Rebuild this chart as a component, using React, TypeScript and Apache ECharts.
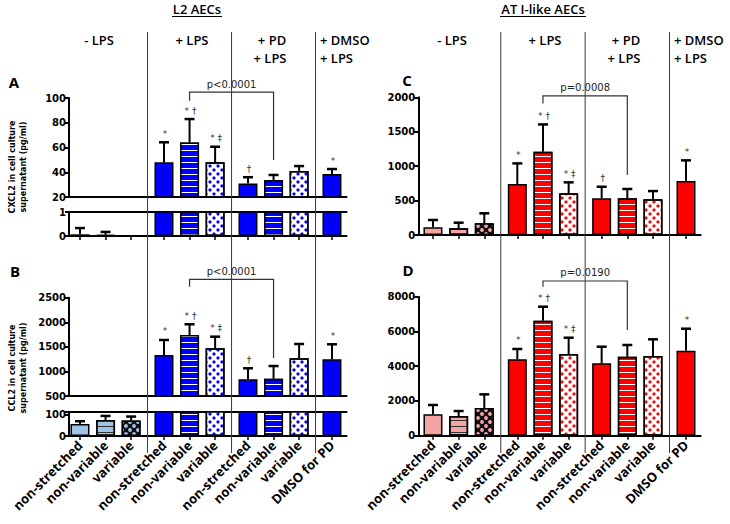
import React, { useEffect, useRef } from 'react';
import * as echarts from 'echarts';

// ---------- data ----------
const groupLabels = [
  'non-stretched', 'non-variable', 'variable',
  'non-stretched', 'non-variable', 'variable',
  'non-stretched', 'non-variable', 'variable',
  'DMSO for PD',
];
// slot position of each bar (in layout units along the x axis)
const slotUnits = [0, 7, 14, 23, 30, 37, 46, 53, 60, 69];
const separatorUnits = [18.5, 41.5, 64.5];
const barPatterns = ['solid', 'stripe', 'dots', 'solid', 'stripe', 'dots', 'solid', 'stripe', 'dots', 'solid'];
const lightBars = [true, true, true, false, false, false, false, false, false, false];

// L2 AECs
const cxcl2L2Mean = [0.07, 0.05, 0, 48, 64, 48, 31, 33.7, 41, 38.6];
const cxcl2L2SD = [0.26, 0.12, 0, 16.2, 19, 12.6, 5, 4.1, 4, 4];
const ccl2L2Mean = [57, 76, 73, 1334, 1741, 1470, 840, 852, 1267, 1246];
const ccl2L2SD = [13, 19, 19, 306, 218, 237, 224, 258, 291, 306];
// AT I-like AECs
const cxcl2ATMean = [112, 97, 170, 740, 1209, 605, 532, 532, 518, 783];
const cxcl2ATSD = [106, 82, 145, 300, 397, 160, 169, 136, 120, 301];
const ccl2ATMean = [1230, 1134, 1594, 4397, 6619, 4702, 4166, 4547, 4587, 4892];
const ccl2ATSD = [537, 286, 786, 593, 805, 938, 956, 673, 961, 1266];

const notesA = ['', '', '', '*', '* †', '* ‡', '†', '', '', '*'];
const notesB = ['', '', '', '*', '* †', '* ‡', '†', '', '', '*'];
const notesC = ['', '', '', '*', '* †', '* ‡', '†', '', '', '*'];
const notesD = ['', '', '', '*', '* †', '* ‡', '', '', '', '*'];

// comparison bracket: between bars 5 and 8 (0-based 4 and 7)
const bracketBars = [4, 7];
// [top, left leg end, right leg end] in data units
const bracketA = [104.8, 97.8, 49.9];
const bracketB = [2874, 2724, 1273];
const bracketC = [2022, 1911, 871];
const bracketD = [8904, 8576, 6083];
const pTextA = 'p<0.0001';
const pTextB = 'p<0.0001';
const pTextC = 'p=0.0008';
const pTextD = 'p=0.0190';

// axis ranges [min, max, interval]
const axisAUpper = [20, 100, 20];
const axisALower = [0, 1, 1];
const axisBUpper = [500, 2500, 500];
const axisBLower = [0, 115, 100];
const axisC = [0, 2000, 500];
const axisD = [0, 8000, 2000];

// ---------- layout / style ----------
const sides: any = {
  L: { left: 69.04, unit: 3.652, padL: 3, padR: 4, main: '#0000ff', light: '#9dc3e6' },
  R: { left: 418.3, unit: 3.667, padL: 4, padR: 4, main: '#ff0000', light: '#f5a3a3' },
};

function styleFor(side: string, k: number) {
  const pal = sides[side];
  const light = lightBars[k];
  const pat = barPatterns[k];
  const base = { borderColor: '#000', borderWidth: 1.5 };
  if (pat === 'solid') return { ...base, color: light ? pal.light : pal.main };
  if (pat === 'stripe')
    return {
      ...base,
      color: light ? pal.light : pal.main,
      decal: {
        symbol: 'rect', symbolSize: 1, symbolKeepAspect: false,
        dashArrayX: [[8, 0]], dashArrayY: [1, 5], rotation: 0,
        color: light ? '#333' : '#ffffff',
      },
    };
  return {
    ...base,
    color: light ? '#111' : '#ffffff',
    decal: {
      symbol: 'circle', symbolSize: light ? 0.95 : 0.8, symbolKeepAspect: true,
      dashArrayX: [[4, 4], [0, 4, 4, 0]], dashArrayY: [4, 0], rotation: 0,
      color: light ? pal.light : pal.main,
    },
  };
}

function namesFor(s: any) {
  const n = s.padL + 69 + s.padR + 1;
  const arr: string[] = [];
  for (let i = 0; i < n; i++) {
    const k = slotUnits.indexOf(i - s.padL);
    arr.push(k >= 0 ? groupLabels[k] : `_${i}`);
  }
  return arr;
}
const showCat = (_i: number, v: any) => !String(v).startsWith('_');

const TICK_FONT = '"DejaVu Sans"';

function textStyle(text: string, font: string, fill: string, align: string, vAlign: string, extra: any = {}) {
  return { text, x: 0, y: 0, font, fill, align, verticalAlign: vAlign, ...extra };
}

function buildOption() {
  const grids: any[] = [];
  const xAxes: any[] = [];
  const yAxes: any[] = [];
  const series: any[] = [];

  const panels = [
    {
      side: 'L', mean: cxcl2L2Mean, sd: cxcl2L2SD, notes: notesA, bracket: bracketA, pText: pTextA,
      segs: [
        { top: 98, height: 99, axis: axisAUpper, main: true },
        { top: 212, height: 24, axis: axisALower, topLine: true, xTicks: true },
      ],
    },
    {
      side: 'L', mean: ccl2L2Mean, sd: ccl2L2SD, notes: notesB, bracket: bracketB, pText: pTextB,
      segs: [
        { top: 297.7, height: 98.3, axis: axisBUpper, main: true },
        { top: 411.7, height: 24.3, axis: axisBLower, topLine: true, xTicks: true, xLabels: true },
      ],
    },
    {
      side: 'R', mean: cxcl2ATMean, sd: cxcl2ATSD, notes: notesC, bracket: bracketC, pText: pTextC,
      segs: [{ top: 97.3, height: 137.7, axis: axisC, main: true, xTicks: true }],
    },
    {
      side: 'R', mean: ccl2ATMean, sd: ccl2ATSD, notes: notesD, bracket: bracketD, pText: pTextD,
      segs: [{ top: 296.7, height: 139, axis: axisD, main: true, xTicks: true, xLabels: true }],
    },
  ];

  // group separators (full height)
  ['L', 'R'].forEach((sideKey) => {
    const s = sides[sideKey];
    const names = namesFor(s);
    const width = (names.length - 1) * s.unit;
    const gi = grids.length;
    grids.push({ left: s.left, top: 32, width, height: 421, containLabel: false });
    const xi = xAxes.length;
    xAxes.push({ gridIndex: gi, type: 'value', min: -s.padL, max: 69 + s.padR, show: false });
    const yi = yAxes.length;
    yAxes.push({ gridIndex: gi, type: 'value', min: 0, max: 1, show: false });
    series.push({
      type: 'custom', xAxisIndex: xi, yAxisIndex: yi, silent: true, z: 1,
      data: separatorUnits.map((u) => [u, 0]),
      renderItem: (params: any, api: any) => {
        const pt = api.coord([api.value(0), 0]);
        const cs = params.coordSys;
        return {
          type: 'line',
          shape: { x1: pt[0], y1: cs.y, x2: pt[0], y2: cs.y + cs.height },
          style: { stroke: '#3a3a3a', lineWidth: 1 },
        };
      },
    });
  });

  panels.forEach((p) => {
    const s = sides[p.side];
    const names = namesFor(s);
    const width = (names.length - 1) * s.unit;
    p.segs.forEach((seg: any) => {
      const [min, max, interval] = seg.axis;
      const gi = grids.length;
      grids.push({ left: s.left, top: seg.top, width, height: seg.height, containLabel: false });
      const xi = xAxes.length;
      xAxes.push({
        gridIndex: gi, type: 'category', data: names, boundaryGap: false,
        axisLine: { onZero: false, lineStyle: { color: '#000', width: 2 } },
        axisTick: { show: !!seg.xTicks, interval: showCat, length: 4, lineStyle: { color: '#000', width: 1.5 } },
        axisLabel: seg.xLabels
          ? {
              show: true, interval: showCat, rotate: 45, margin: 7, color: '#000',
              fontFamily: '"Open Sans"', fontWeight: 'bold', fontSize: 13,
            }
          : { show: false },
        splitLine: { show: false },
      });
      if (seg.topLine) {
        xAxes.push({
          gridIndex: gi, type: 'category', data: names, boundaryGap: false, position: 'top',
          axisLine: { onZero: false, lineStyle: { color: '#000', width: 2 } },
          axisTick: { show: false }, axisLabel: { show: false }, splitLine: { show: false },
        });
      }
      const yi = yAxes.length;
      yAxes.push({
        gridIndex: gi, type: 'value', min, max, interval,
        axisLine: { show: true, lineStyle: { color: '#000', width: 2 } },
        axisTick: { show: true, length: 4, lineStyle: { color: '#000', width: 2 } },
        axisLabel: {
          margin: 3, color: '#000', fontFamily: TICK_FONT, fontWeight: 'bold', fontSize: 10,
          formatter: (v: number) => ((v - min) % interval === 0 ? String(v) : ''),
        },
        splitLine: { show: false },
      });

      const barData = names.map((_n, i) => {
        const k = slotUnits.indexOf(i - s.padL);
        if (k < 0) return null;
        const v = p.mean[k];
        if (v < min || (min > 0 && v <= min)) return null;
        return { value: v, itemStyle: styleFor(p.side, k) };
      });
      series.push({
        type: 'bar', xAxisIndex: xi, yAxisIndex: yi, data: barData, barWidth: 19,
        clip: true, silent: true, z: 2,
      });

      series.push({
        type: 'custom', xAxisIndex: xi, yAxisIndex: yi, silent: true, z: 3,
        data: p.mean.map((v, k) => [s.padL + slotUnits[k], v, v + p.sd[k]]),
        encode: { x: 0, y: [1, 2] },
        renderItem: (params: any, api: any) => {
          const k = params.dataIndex;
          const v = api.value(1);
          const top = api.value(2);
          const children: any[] = [];
          if (v >= min && top <= max && top > v) {
            const b = api.coord([api.value(0), v]);
            const c = api.coord([api.value(0), top]);
            children.push({
              type: 'line', shape: { x1: b[0], y1: b[1], x2: c[0], y2: c[1] },
              style: { stroke: '#000', lineWidth: 2 },
            });
            children.push({
              type: 'line', shape: { x1: c[0] - 5, y1: c[1], x2: c[0] + 5, y2: c[1] },
              style: { stroke: '#000', lineWidth: 2.5 },
            });
          }
          if (seg.main && p.notes[k]) {
            const c = api.coord([api.value(0), top]);
            children.push({
              type: 'text', x: c[0] + 1, y: c[1] - 4,
              style: textStyle(p.notes[k], '9px "DejaVu Sans"', '#333333', 'center', 'bottom'),
            });
          }
          return { type: 'group', children };
        },
      });

      if (seg.main) {
        series.push({
          type: 'custom', xAxisIndex: xi, yAxisIndex: yi, silent: true, z: 3,
          data: [[
            s.padL + slotUnits[bracketBars[0]], s.padL + slotUnits[bracketBars[1]],
            p.bracket[0], p.bracket[1], p.bracket[2],
          ]],
          encode: { x: [0, 1], y: [2, 3, 4] },
          renderItem: (_params: any, api: any) => {
            const a = api.coord([api.value(0), api.value(2)]);
            const b = api.coord([api.value(1), api.value(2)]);
            const la = api.coord([api.value(0), api.value(3)]);
            const rb = api.coord([api.value(1), api.value(4)]);
            return {
              type: 'group',
              children: [
                {
                  type: 'polyline',
                  shape: { points: [[la[0], la[1]], [a[0], a[1]], [b[0], b[1]], [rb[0], rb[1]]] },
                  style: { stroke: '#333333', lineWidth: 1.2, fill: null },
                },
                {
                  type: 'text', x: (a[0] + b[0]) / 2, y: a[1] - 3,
                  style: textStyle(p.pText, '10px "DejaVu Sans"', '#222222', 'center', 'bottom'),
                },
              ],
            };
          },
        });
      }
    });
  });

  const hFont = '600 13px "Open Sans"';
  const txt = (text: string, x: number, y: number, font: string, align = 'center', extra: any = {}, styleExtra: any = {}) => ({
    type: 'text', x, y, silent: true, ...extra,
    style: textStyle(text, font, '#000000', align, 'middle', styleExtra),
  });
  const yTitleFont = 'bold 8px "DejaVu Sans"';

  const graphic: any[] = [
    txt('L2 AECs', 197, 9, hFont),
    { type: 'line', silent: true, shape: { x1: 172, y1: 16.5, x2: 222, y2: 16.5 }, style: { stroke: '#000', lineWidth: 1 } },
    txt('AT I-like AECs', 543, 9, hFont),
    { type: 'line', silent: true, shape: { x1: 500, y1: 16.5, x2: 586, y2: 16.5 }, style: { stroke: '#000', lineWidth: 1 } },
    txt('- LPS', 99, 40, hFont),
    txt('+ LPS', 192, 40, hFont),
    txt('+ PD', 272, 40, hFont),
    txt('+ LPS', 270, 58, hFont),
    txt('+ DMSO', 320, 40, hFont, 'left'),
    txt('+ LPS', 320, 58, hFont, 'left'),
    txt('- LPS', 452, 40, hFont),
    txt('+ LPS', 545, 40, hFont),
    txt('+ PD', 626, 40, hFont),
    txt('+ LPS', 624, 58, hFont),
    txt('+ DMSO', 674, 40, hFont, 'left'),
    txt('+ LPS', 674, 58, hFont, 'left'),
    txt('A', 14, 82, 'bold 15px "Open Sans"'),
    txt('B', 15, 271, 'bold 15px "Open Sans"'),
    txt('C', 407, 80, 'bold 15px "Open Sans"'),
    txt('D', 408, 270, 'bold 15px "Open Sans"'),
    txt('CXCL2 in cell culture\nsupernatant (pg/ml)', 17.5, 167, yTitleFont, 'center',
      { rotation: Math.PI / 2 }, { lineHeight: 11 }),
    txt('CCL2 in cell culture\nsupernatant (pg/ml)', 17.5, 368, yTitleFont, 'center',
      { rotation: Math.PI / 2 }, { lineHeight: 11 }),
  ];

  return {
    animation: false,
    backgroundColor: '#ffffff',
    grid: grids,
    xAxis: xAxes,
    yAxis: yAxes,
    series,
    graphic,
  };
}

export default function App() {
  const ref = useRef<HTMLDivElement>(null);
  useEffect(() => {
    document.body.style.margin = '0';
    const chart = echarts.init(ref.current as HTMLDivElement, undefined, { renderer: 'svg' });
    chart.setOption(buildOption() as any);
    return () => chart.dispose();
  }, []);
  return <div ref={ref} style={{ width: 730, height: 524 }} />;
}
